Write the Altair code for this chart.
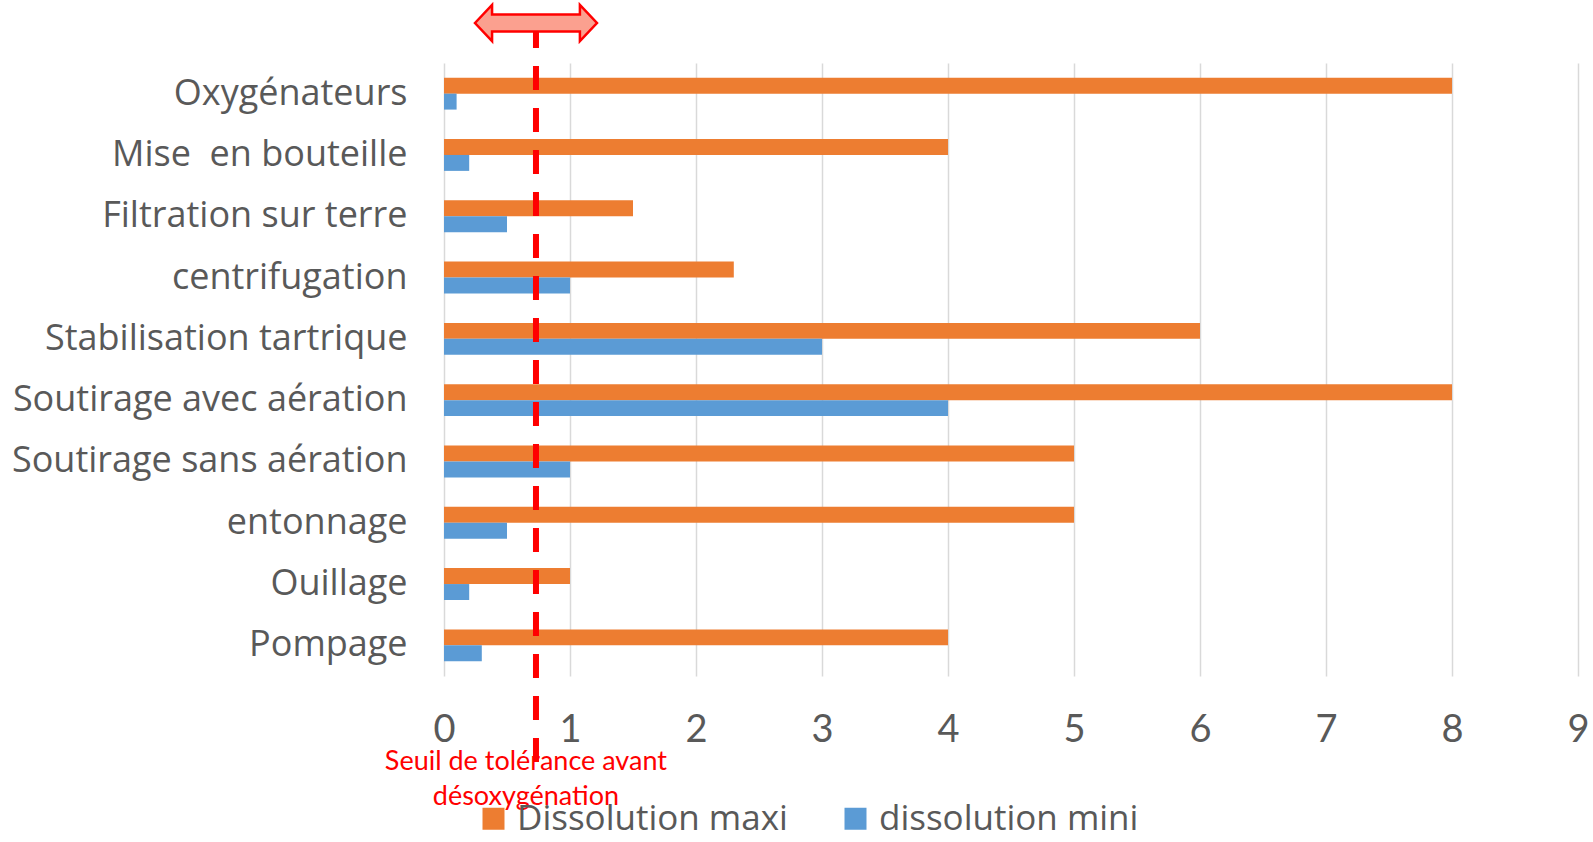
import altair as alt
import pandas as pd

CATEGORIES = ["Oxygénateurs", "Mise\u00a0 en bouteille", "Filtration sur terre", "centrifugation",
              "Stabilisation tartrique", "Soutirage avec aération", "Soutirage sans aération",
              "entonnage", "Ouillage", "Pompage"]
SERIES = ["Dissolution maxi", "dissolution mini"]
MAXI = [8, 4, 1.5, 2.3, 6, 8, 5, 5, 1, 4]
MINI = [0.1, 0.2, 0.5, 1, 3, 4, 1, 0.5, 0.2, 0.3]
COLORS = ["#ED7D31", "#5B9BD5"]
X_TICKS = [0, 1, 2, 3, 4, 5, 6, 7, 8, 9]
THRESHOLD = [0.73]
ANNOT_X = [0.65]
ANNOT_TEXT = ["Seuil de tolérance avant\ndésoxygénation"]

rows = []
for c, a, b in zip(CATEGORIES, MAXI, MINI):
    rows.append({"cat": c, "series": SERIES[0], "value": a})
    rows.append({"cat": c, "series": SERIES[1], "value": b})
df = pd.DataFrame(rows)

xscale = alt.Scale(domain=[0, 9], nice=False, zero=True)

bars = alt.Chart(df).mark_bar(opacity=1).encode(
    y=alt.Y("cat:N", sort=CATEGORIES,
            scale=alt.Scale(paddingInner=0.48, paddingOuter=0.24),
            axis=alt.Axis(title=None, ticks=False, domain=False, labelFont="Open Sans",
                          labelFontSize=36, labelColor="#595959", labelPadding=37,
                          labelLimit=600, grid=False)),
    yOffset=alt.YOffset("series:N", sort=SERIES, scale=alt.Scale(paddingInner=0, paddingOuter=0)),
    x=alt.X("value:Q", scale=xscale,
            axis=alt.Axis(title=None, values=X_TICKS, format="d", ticks=False, domain=False,
                          grid=True, gridColor="#D9D9D9", gridWidth=1.5, labelFont="Lato",
                          labelFontSize=38, labelColor="#595959", labelPadding=35,
                          labelFlush=False)),
    color=alt.Color("series:N", sort=SERIES,
                    scale=alt.Scale(domain=SERIES, range=COLORS),
                    legend=alt.Legend(title=None, orient="none", legendX=32, legendY=738,
                                      direction="horizontal", symbolType="square",
                                      symbolSize=484, symbolStrokeWidth=0, labelFont="Open Sans",
                                      labelFontSize=35, labelColor="#595959", labelOffset=6,
                                      columnPadding=50, labelLimit=600)),
)

thr = pd.DataFrame({"x": THRESHOLD})
rule = alt.Chart(thr).mark_rule(color="#FF0000", strokeWidth=6, strokeDash=[24, 18]).encode(
    x=alt.X("x:Q", scale=xscale),
    y=alt.value(-39),
    y2=alt.value(699),
)

ARROW_PATH = ("M-1,0 L-0.72,-0.295 L-0.72,-0.14 L0.72,-0.14 L0.72,-0.295 L1,0 "
              "L0.72,0.295 L0.72,0.14 L-0.72,0.14 L-0.72,0.295 Z")
arrow = alt.Chart(thr).mark_point(shape=ARROW_PATH, filled=True, fill="#FBA08F",
                                  stroke="#FF0000", strokeWidth=2.5, opacity=1,
                                  fillOpacity=1, size=14884).encode(
    x=alt.X("x:Q", scale=xscale),
    y=alt.value(-40),
)

ann = pd.DataFrame({"x": ANNOT_X, "t": ANNOT_TEXT})
text = alt.Chart(ann).mark_text(color="#FF0000", font="Lato", fontSize=27, lineBreak="\n",
                                lineHeight=35, align="center", baseline="middle").encode(
    x=alt.X("x:Q", scale=xscale),
    y=alt.value(699),
    text="t:N",
)

chart = alt.layer(bars, rule, arrow, text).properties(
    width=1134, height=613,
    background="white",
    autosize=alt.AutoSizeParams(type="none"),
    padding={"left": 444, "top": 63, "right": 15, "bottom": 166},
).configure_view(stroke=None)

chart.save("out.html", embed_options={"renderer": "svg", "actions": False})
